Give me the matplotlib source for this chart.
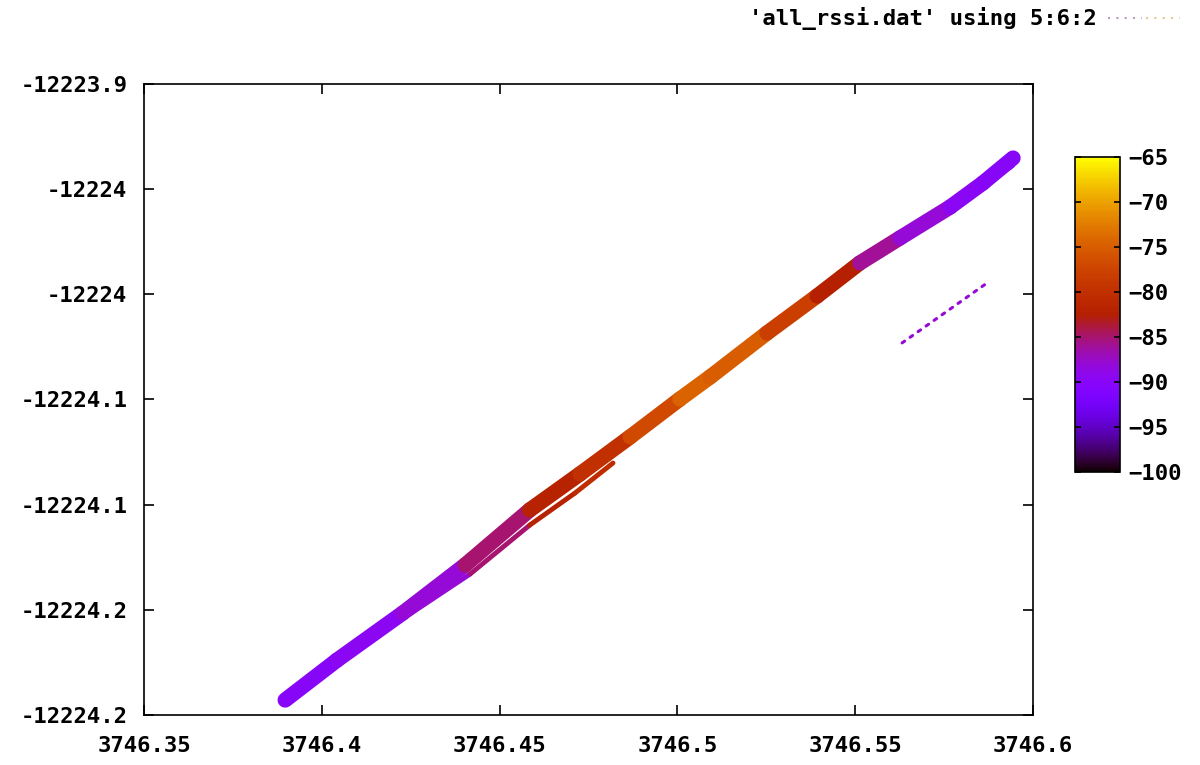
import numpy as np
import matplotlib
matplotlib.use('Agg')
import matplotlib.pyplot as plt
from matplotlib.collections import LineCollection
from matplotlib.colors import Normalize
from matplotlib.cm import ScalarMappable
from matplotlib.lines import Line2D

# main pass (upper, wide band)
main_x = [3746.3897, 3746.4043, 3746.4228, 3746.4403, 3746.4585, 3746.4726,
          3746.4867, 3746.5007, 3746.5092, 3746.5252, 3746.5393, 3746.5513,
          3746.5626, 3746.5767, 3746.5859, 3746.5944]
main_y = [-12224.1929, -12224.1739, -12224.1515, -12224.1287, -12224.1025, -12224.0854,
          -12224.0678, -12224.0498, -12224.0393, -12224.0184, -12224.0008, -12223.9851,
          -12223.9732, -12223.9585, -12223.9471, -12223.9352]
main_rssi = [-90, -90, -89, -87, -83, -81, -79, -75, -74, -76, -80, -85,
             -87, -89, -90, -90]

# lower strand, middle of the track
low_x = [3746.4248, 3746.4417, 3746.4585, 3746.4712, 3746.4819]
low_y = [-12224.1520, -12224.1330, -12224.1097, -12224.0945, -12224.0802]
low_rssi = [-89, -87, -83, -81, -80]

# lower strand, top right end
end_x = [3746.5809, 3746.5944]
end_y = [-12223.9552, -12223.9390]
end_rssi = [-90, -90]

# isolated dotted run
iso_x = [3746.5632, 3746.5871]
iso_y = [-12224.0231, -12223.9946]
iso_rssi = [-88, -88]

x_ticks = [3746.35, 3746.40, 3746.45, 3746.50, 3746.55, 3746.60]
x_labels = ['3746.35', '3746.4', '3746.45', '3746.5', '3746.55', '3746.6']
y_ticks = [-12223.90, -12223.95, -12224.00, -12224.05, -12224.10, -12224.15, -12224.20]
y_labels = ['-12223.9', '-12224', '-12224', '-12224.1', '-12224.1', '-12224.2', '-12224.2']
cb_ticks = [-100, -95, -90, -85, -80, -75, -70, -65]

plt.rcParams['font.family'] = ['DejaVu Sans Mono', 'DejaVu Sans']
plt.rcParams['font.weight'] = 'bold'

norm = Normalize(vmin=-100, vmax=-65)
cmap = plt.get_cmap('gnuplot')

fig = plt.figure(figsize=(12, 7.65), dpi=100)
ax = fig.add_axes([0.12, 0.0654, 0.7408, 0.8248])


def draw_track(xs, ys, vals, width, ls='solid'):
    pts = np.column_stack([xs, ys]).reshape(-1, 1, 2)
    segs = np.concatenate([pts[:-1], pts[1:]], axis=1)
    v = np.array(vals, dtype=float)
    lc = LineCollection(segs, cmap=cmap, norm=norm, linewidths=width,
                        capstyle='round', joinstyle='round', linestyles=ls)
    lc.set_array((v[:-1] + v[1:]) / 2)
    ax.add_collection(lc)


draw_track(main_x, main_y, main_rssi, 11)
draw_track(low_x, low_y, low_rssi, 3.5)
draw_track(end_x, end_y, end_rssi, 2.5)
draw_track(iso_x, iso_y, iso_rssi, 2.2, ls=(0, (1, 2.2)))

ax.set_xlim(3746.35, 3746.6)
ax.set_ylim(-12224.2, -12223.9)
ax.set_xticks(x_ticks, x_labels)
ax.set_yticks(y_ticks, y_labels)
ax.tick_params(axis='both', direction='in', length=7, width=1.2,
               top=True, right=True, labelsize=16)
ax.tick_params(axis='x', pad=15)
ax.tick_params(axis='y', pad=12)
for s in ax.spines.values():
    s.set_linewidth(1.2)

# colour box
cax = fig.add_axes([0.8958, 0.3830, 0.0375, 0.4118])
cb = fig.colorbar(ScalarMappable(norm=norm, cmap=cmap), cax=cax, ticks=cb_ticks)
cb.outline.set_linewidth(1.2)
cax.tick_params(direction='in', length=4, width=1.2, left=True, right=True,
                labelsize=16, pad=6)

# key
fig.text(1097 / 1200, 1 - 18 / 765, "'all_rssi.dat' using 5:6:2",
         ha='right', va='center', fontsize=16, fontweight='bold')
fig.add_artist(Line2D([1108 / 1200, 1142 / 1200], [1 - 18 / 765] * 2,
                      ls=(0, (1, 3)), lw=1.5, color='#b89cc8'))
fig.add_artist(Line2D([1146 / 1200, 1180 / 1200], [1 - 18 / 765] * 2,
                      ls=(0, (1, 3)), lw=1.5, color='#e8c890'))

fig.savefig('out.png', dpi=100)
